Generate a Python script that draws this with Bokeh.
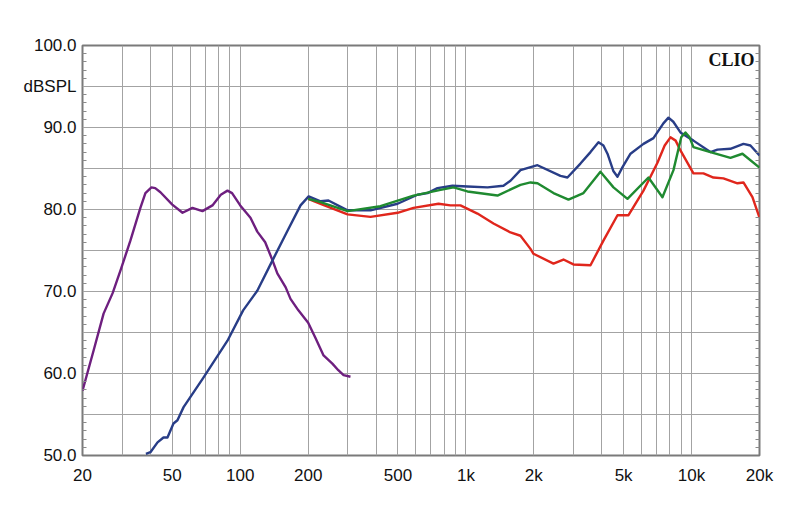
from bokeh.plotting import figure
from bokeh.models import Range1d, FixedTicker, LinearAxis, Label
from bokeh.embed import file_html
from bokeh.resources import INLINE

# Woofer (purple)
woofer_f = [20, 22.4, 24.8, 27.2, 29.5, 32.6, 36.1, 38.0, 40.4, 42.0, 44.3, 50, 55.5, 61.4, 68.0, 75.3,
            82.0, 87.8, 92.0, 100, 111, 119, 129, 139, 146, 159, 167, 181, 200, 215, 234, 256, 272, 287, 308]
woofer_db = [57.9, 62.8, 67.3, 69.8, 72.6, 76.2, 80.2, 82.0, 82.7, 82.6, 82.1, 80.6, 79.6, 80.2, 79.8, 80.5,
             81.8, 82.3, 82.0, 80.5, 79.0, 77.3, 76.0, 73.8, 72.2, 70.5, 69.1, 67.7, 66.2, 64.4, 62.2, 61.2,
             60.4, 59.8, 59.6]

# On-axis (blue)
blue_f = [38.2, 40.0, 43.0, 45.7, 47.6, 50.6, 52.7, 56.1, 68.7, 87.8, 103, 119, 139, 162, 185, 201,
          227, 246, 299, 378, 498, 610, 676, 748, 872, 1016, 1247, 1467, 1576, 1745, 2076, 2624, 2818,
          3218, 3565, 3868, 4068, 4240, 4500, 4696, 4950, 5363, 6122, 6778, 7500, 7900, 8300, 8928,
          10192, 12120, 13022, 14868, 16976, 18234, 20000]
blue_db = [50.2, 50.4, 51.6, 52.2, 52.2, 53.9, 54.3, 55.9, 59.5, 64.0, 67.7, 70.1, 73.8, 77.4, 80.5, 81.6,
           81.0, 81.1, 79.9, 79.9, 80.7, 81.8, 82.0, 82.6, 82.9, 82.8, 82.7, 82.9, 83.5, 84.8, 85.4, 84.1, 83.9,
           85.6, 87.0, 88.2, 87.8, 86.8, 84.7, 84.0, 85.2, 86.8, 88.0, 88.7, 90.5, 91.2, 90.7, 89.4,
           88.4, 87.0, 87.3, 87.4, 88.0, 87.8, 86.6]

# 15 degrees (green)
green_f = [200, 227, 299, 418, 586, 772, 881, 1016, 1380, 1745, 1933, 2076, 2444, 2848, 3319, 3946,
           4508, 5200, 6440, 7430, 8314, 9000, 9394, 9800, 10192, 12120, 14868, 16804, 20000]
green_db = [81.3, 80.9, 79.8, 80.4, 81.7, 82.4, 82.7, 82.2, 81.7, 83.0, 83.3, 83.2, 82.0, 81.2, 82.0, 84.6,
            82.7, 81.3, 83.9, 81.5, 84.8, 88.8, 89.4, 88.8, 87.6, 87.0, 86.3, 86.8, 85.1]

# 30 degrees (red)
red_f = [200, 227, 299, 378, 498, 586, 756, 854, 946, 1125, 1325, 1576, 1745, 1933, 1993, 2444, 2706,
         2996, 3565, 4068, 4696, 5254, 6122, 7060, 7600, 8062, 8500, 8928, 10192, 11286, 12502, 13842,
         15968, 16976, 18610, 20000]
red_db = [81.3, 80.7, 79.4, 79.1, 79.6, 80.2, 80.7, 80.5, 80.5, 79.5, 78.3, 77.2, 76.8, 75.2, 74.6, 73.4, 73.9,
          73.3, 73.2, 76.2, 79.3, 79.3, 82.3, 85.7, 87.8, 88.8, 88.4, 87.2, 84.4, 84.4, 83.9, 83.8,
          83.2, 83.3, 81.5, 79.0]

x_grid_ticks = [20, 30, 40, 50, 60, 70, 80, 90, 100, 200, 300, 400, 500, 600, 700, 800, 900,
                1000, 2000, 3000, 4000, 5000, 6000, 7000, 8000, 9000, 10000, 20000]
x_label_ticks = [20, 50, 100, 200, 500, 1000, 2000, 5000, 10000, 20000]
x_labels = {20: "20", 50: "50", 100: "100", 200: "200", 500: "500", 1000: "1k",
            2000: "2k", 5000: "5k", 10000: "10k", 20000: "20k"}
y_grid_ticks = [50, 55, 60, 65, 70, 75, 80, 85, 90, 95, 100]
y_label_ticks = [50, 60, 70, 80, 90, 95, 100]
y_labels = {50: "50.0", 60: "60.0", 70: "70.0", 80: "80.0", 90: "90.0", 95: "dBSPL", 100: "100.0"}
y_minor = [v for v in range(50, 101) if v % 5 != 0]

p = figure(width=792, height=507, x_axis_type="log",
           x_range=Range1d(20, 20000), y_range=Range1d(50, 100),
           output_backend="svg", toolbar_location=None,
           min_border_left=82, min_border_right=33, min_border_top=45, min_border_bottom=52)
p.background_fill_color = "white"
p.border_fill_color = "white"
p.outline_line_color = "#7a7a7a"
p.outline_line_width = 2

xa = p.xaxis[0]
xa.ticker = FixedTicker(ticks=x_label_ticks, minor_ticks=[])
xa.major_label_overrides = x_labels
xa.major_tick_in = 0
xa.major_tick_out = 0
xa.minor_tick_in = 0
xa.minor_tick_out = 0
xa.axis_line_color = None
xa.major_label_standoff = 10
xa.major_label_text_font = "Liberation Sans"
xa.major_label_text_font_size = "17px"
xa.major_label_text_color = "#111111"

ya = p.yaxis[0]
ya.ticker = FixedTicker(ticks=y_label_ticks, minor_ticks=y_minor)
ya.major_label_overrides = y_labels
ya.major_tick_in = 0
ya.major_tick_out = 0
ya.minor_tick_in = 4
ya.minor_tick_out = 0
ya.minor_tick_line_color = "#8a8a8a"
ya.axis_line_color = None
ya.major_label_standoff = 6
ya.major_label_text_font = "Liberation Sans"
ya.major_label_text_font_size = "17px"
ya.major_label_text_color = "#111111"

ra = LinearAxis(ticker=FixedTicker(ticks=[], minor_ticks=y_minor))
ra.major_tick_in = 0
ra.major_tick_out = 0
ra.minor_tick_in = 4
ra.minor_tick_out = 0
ra.minor_tick_line_color = "#8a8a8a"
ra.axis_line_color = None
p.add_layout(ra, "right")

p.xgrid.ticker = FixedTicker(ticks=x_grid_ticks, minor_ticks=[])
p.ygrid.ticker = FixedTicker(ticks=y_grid_ticks, minor_ticks=[])
p.xgrid.grid_line_color = "#a3a3a3"
p.ygrid.grid_line_color = "#a3a3a3"
p.xgrid.grid_line_width = 1
p.ygrid.grid_line_width = 1

lw = 2.4
p.line(woofer_f, woofer_db, line_color="#6e1f7f", line_width=lw, line_join="round")
p.line(blue_f, blue_db, line_color="#283d87", line_width=lw, line_join="round")
p.line(red_f, red_db, line_color="#e0261c", line_width=lw, line_join="round")
p.line(green_f, green_db, line_color="#1f8a30", line_width=lw, line_join="round")

p.add_layout(Label(x=19000, y=99.4, text="CLIO", text_align="right", text_baseline="top",
                   text_font="Liberation Serif", text_font_style="bold",
                   text_font_size="18px", text_color="#111111"))

open("out.html", "w").write(file_html(p, INLINE))
